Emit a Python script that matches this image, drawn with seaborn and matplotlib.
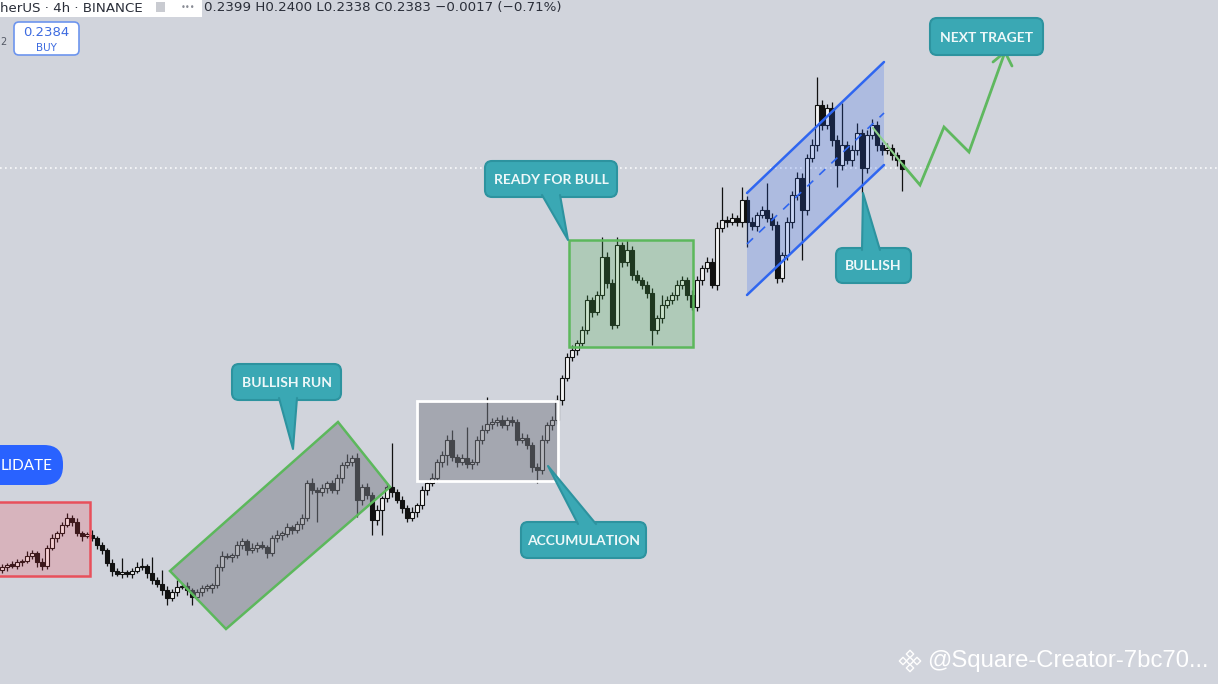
import matplotlib.pyplot as plt
import seaborn as sns
import numpy as np
from matplotlib.patches import Polygon, FancyBboxPatch, Rectangle
from matplotlib.transforms import Affine2D

sns.set_theme(style="white")
plt.rcParams['font.family'] = ['DejaVu Sans']

# ------------------------------------------
# Candle data (prices in units of 0.0001 USDT)
# ------------------------------------------
closes = [
    1586, 1590, 1588, 1596, 1598, 1608, 1614, 1596, 1588, 1624,
    1644, 1654, 1670, 1684, 1676, 1654, 1648, 1650, 1644, 1630,
    1620, 1594, 1578, 1572, 1576, 1572, 1578, 1586, 1588, 1574,
    1560, 1552, 1540, 1524, 1536, 1546, 1548, 1540, 1526, 1536,
    1544, 1544, 1550, 1586, 1608, 1606, 1610, 1630, 1638, 1620,
    1624, 1630, 1626, 1614, 1644, 1650, 1652, 1666, 1660, 1672,
    1684, 1754, 1740, 1736, 1744, 1754, 1740, 1764, 1790, 1796,
    1804, 1720, 1746, 1730, 1680, 1700, 1724, 1746, 1736, 1720,
    1704, 1684, 1696, 1710, 1740, 1754, 1764, 1796, 1810, 1840,
    1806, 1796, 1804, 1792, 1796, 1840, 1860, 1872, 1876, 1880,
    1870, 1880, 1876, 1840, 1844, 1830, 1786, 1780, 1840, 1870,
    1880, 1920, 1964, 2006, 2020, 2034, 2060, 2120, 2096, 2130,
    2206, 2154, 2070, 2230, 2196, 2220, 2170, 2160, 2150, 2134,
    2060, 2084, 2110, 2120, 2130, 2150, 2160, 2130, 2106, 2160,
    2184, 2196, 2150, 2264, 2280, 2276, 2284, 2276, 2320, 2276,
    2268, 2290, 2300, 2284, 2270, 2164, 2210, 2276, 2330, 2364,
    2300, 2404, 2430, 2510, 2470, 2504, 2440, 2390, 2430, 2400,
    2420, 2454, 2384, 2450, 2470, 2430, 2420, 2424, 2410, 2400,
    2383,
]
first_open = 1580

# wick lengths above / below the body
wick_up = [
    6, 4, 8, 6, 4, 10, 6, 4, 8, 6, 8, 4, 6, 10, 6, 8, 4, 6, 10, 4,
    6, 4, 8, 6, 28, 4, 6, 10, 16, 4, 32, 6, 28, 8, 6, 14, 6, 8, 4, 6,
    6, 8, 4, 6, 10, 6, 4, 8, 6, 4, 10, 6, 8, 4, 6, 10, 6, 8, 4, 6,
    8, 6, 10, 6, 8, 4, 6, 8, 6, 16, 6, 10, 6, 8, 6, 10, 4, 8, 88, 6,
    8, 6, 10, 4, 8, 6, 10, 6, 8, 10, 20, 6, 8, 62, 6, 8, 10, 54, 8, 6,
    10, 6, 8, 6, 10, 8, 6, 8, 10, 6, 8, 10, 6, 8, 10, 6, 8, 10, 6, 8,
    40, 10, 8, 16, 6, 20, 8, 10, 6, 8, 10, 6, 20, 8, 6, 10, 8, 6, 10, 8,
    6, 10, 8, 12, 66, 8, 10, 6, 26, 8, 10, 6, 8, 54, 10, 8, 6, 10, 8, 12,
    10, 8, 12, 56, 10, 8, 12, 10, 84, 8, 10, 20, 8, 10, 12, 8, 6, 10, 8, 6,
    1,
]
wick_dn = [
    6, 8, 4, 6, 8, 4, 6, 10, 8, 6, 4, 8, 6, 4, 8, 6, 10, 4, 6, 8,
    8, 6, 10, 4, 8, 6, 8, 4, 6, 10, 8, 6, 10, 14, 6, 8, 4, 10, 16, 6,
    8, 6, 10, 6, 8, 4, 10, 6, 8, 10, 6, 8, 4, 10, 6, 8, 10, 6, 8, 6,
    10, 6, 8, 60, 8, 10, 6, 8, 10, 6, 8, 34, 10, 8, 30, 10, 50, 8, 10, 6,
    10, 8, 6, 10, 8, 10, 6, 8, 10, 20, 8, 10, 6, 8, 10, 6, 8, 6, 10, 8,
    6, 10, 8, 10, 6, 8, 10, 26, 8, 6, 10, 8, 10, 6, 8, 10, 6, 8, 10, 6,
    8, 10, 8, 6, 10, 8, 10, 6, 8, 10, 30, 8, 10, 6, 8, 10, 8, 10, 6, 8,
    10, 8, 6, 10, 8, 10, 6, 8, 10, 50, 8, 10, 6, 8, 10, 10, 8, 10, 12, 10,
    100, 10, 8, 12, 10, 8, 12, 44, 10, 8, 12, 10, 50, 10, 8, 12, 10, 8, 10, 12,
    45,
]

header_left = "herUS · 4h · BINANCE"
header_ohlc = "0.2399 H0.2400 L0.2338 C0.2383 −0.0017 (−0.71%)"
last_price = 0.2384

# ------------------------------------------
# Colours
# ------------------------------------------
BG = '#d1d4dc'
TEAL = '#3aa8b4'
TEAL_EDGE = '#2d939f'
GREEN = '#5cb85c'
BLUE = '#2f66f0'

W, H = 1218, 684
fig = plt.figure(figsize=(W / 100, H / 100), dpi=100)
fig.patch.set_facecolor(BG)
ax = fig.add_axes([0, 0, 1, 1])
ax.set_facecolor(BG)
ax.set_axis_off()

# ------------------------------------------
# Candles
# ------------------------------------------
c = np.array(closes) / 10000
o = np.array([first_open] + closes[:-1]) / 10000
hi = np.maximum(o, c) + np.array(wick_up) / 10000
lo = np.minimum(o, c) - np.array(wick_dn) / 10000
idx = np.arange(len(c))
up = c >= o

ax.vlines(idx, lo, hi, color='#111111', lw=0.9, zorder=3)
body_h = np.maximum(np.abs(c - o), 0.0003)
ax.bar(idx, body_h, bottom=np.minimum(o, c), width=0.72,
       color=np.where(up, '#f4f4f4', '#111111'), edgecolor='#111111',
       linewidth=0.8, zorder=4)

ax.set_xlim(-0.4, 243.2)
ax.set_ylim(0.1352, 0.2720)

# pixel transform for drawings (origin top-left like the screenshot)
pix = Affine2D().scale(1 / W, -1 / H).translate(0, 1) + ax.transAxes

# current price dotted line
ax.axhline(last_price, color='white', lw=1.2, ls=(0, (1, 2)), alpha=0.9, zorder=2)


def box(x0, y0, x1, y1, fc, ec, alpha, lw=1.8):
    ax.add_patch(Rectangle((x0, y0), x1 - x0, y1 - y0, transform=pix,
                           fc=fc, alpha=alpha, ec='none', zorder=5))
    ax.add_patch(Rectangle((x0, y0), x1 - x0, y1 - y0, transform=pix,
                           fc='none', ec=ec, lw=lw, zorder=6))


def poly(pts, fc, ec, alpha, lw=1.8):
    ax.add_patch(Polygon(pts, closed=True, transform=pix, fc=fc, alpha=alpha,
                         ec='none', zorder=5))
    ax.add_patch(Polygon(pts, closed=True, transform=pix, fc='none', ec=ec,
                         lw=lw, zorder=6))


def callout(x0, y0, x1, y1, text, tail=None):
    ax.add_patch(FancyBboxPatch((x0, y0), x1 - x0, y1 - y0,
                                boxstyle="round,pad=0,rounding_size=7",
                                transform=pix, fc=TEAL, ec=TEAL_EDGE, lw=1.5,
                                zorder=8))
    if tail is not None:
        (bx0, by), (bx1, _), (tx, ty) = tail
        ax.add_patch(Polygon(tail, closed=True, transform=pix, fc=TEAL,
                             ec='none', zorder=9))
        ax.plot([bx0, tx, bx1], [by, ty, by], color=TEAL_EDGE, lw=1.5,
                transform=pix, zorder=9)
    ax.text((x0 + x1) / 2, (y0 + y1) / 2 + 1, text, transform=pix,
            ha='center', va='center', color='#eef8f9', fontsize=10,
            fontweight='bold', family='Lato', zorder=10)


# red consolidation box
box(-5, 502, 90, 576, '#f23645', '#e8505b', 0.2)
# rotated bullish run box
poly([(170, 571), (338, 422), (390, 487), (226, 629)], '#787b86', GREEN, 0.5)
# accumulation box
box(417, 401, 558, 481, '#787b86', 'white', 0.5, lw=2)
# ready for bull box
box(569, 240, 693, 347, '#4caf50', GREEN, 0.25)

# blue channel
poly([(747, 193), (884, 62), (884, 165), (747, 295)], BLUE, 'none', 0.22)
ax.plot([747, 884], [193, 62], color=BLUE, lw=1.8, transform=pix, zorder=6)
ax.plot([747, 884], [295, 165], color=BLUE, lw=1.8, transform=pix, zorder=6)
ax.plot([747, 884], [244, 113], color=BLUE, lw=1.2, ls=(0, (5, 5)),
        transform=pix, zorder=6)

# projection path
ax.plot([873, 903], [128, 165], color='#8ccf8a', lw=1.5, transform=pix, zorder=7)
ax.plot([903, 920, 944, 969, 1005], [165, 185, 127, 152, 52],
        color='#5fb85f', lw=2, transform=pix, zorder=7, solid_joinstyle='miter')
ax.plot([993, 1005, 1012], [62, 52, 66], color='#5fb85f', lw=2,
        transform=pix, zorder=7)

# callouts
callout(232, 364, 341, 400, "BULLISH RUN", [(279, 398), (297, 398), (293, 449)])
callout(485, 161, 617, 197, "READY FOR BULL", [(542, 195), (560, 195), (568, 240)])
callout(521, 522, 646, 558, "ACCUMULATION", [(578, 524), (596, 524), (548, 466)])
callout(836, 248, 911, 283, "BULLISH", [(862, 250), (880, 250), (863, 193)])
callout(930, 18, 1043, 55, "NEXT TRAGET")

# blue consolidate pill
ax.add_patch(FancyBboxPatch((-40, 445), 103, 40,
                            boxstyle="round,pad=0,rounding_size=19",
                            transform=pix, fc='#2962ff', ec='none', zorder=8))
ax.text(1, 466, "LIDATE", transform=pix, ha='left', va='center',
        color='white', fontsize=11, family='Lato', zorder=10)

# header strip
ax.add_patch(Rectangle((0, 0), 202, 17, transform=pix, fc='white', ec='none',
                       zorder=12))
ax.text(0, 8, header_left, transform=pix, ha='left', va='center',
        color='#2a2e39', fontsize=9.6, zorder=13)
ax.add_patch(Rectangle((156, 2), 9, 10, transform=pix, fc='#c9cbd1',
                       ec='none', zorder=13))
ax.text(181, 7, "•••", transform=pix, ha='left', va='center',
        color='#888b94', fontsize=6, zorder=13)
ax.text(204, 8, header_ohlc, transform=pix, ha='left', va='center',
        color='#2a2e39', fontsize=9.6, zorder=11)

# buy button
ax.add_patch(FancyBboxPatch((14, 22), 65, 33,
                            boxstyle="round,pad=0,rounding_size=5",
                            transform=pix, fc='white', ec='#6d95ee', lw=1.2,
                            zorder=12))
ax.text(46.5, 33, f"{last_price:.4f}", transform=pix, ha='center',
        va='center', color='#3d6be0', fontsize=9.5, zorder=13)
ax.text(46.5, 48, "BUY", transform=pix, ha='center', va='center',
        color='#3d6be0', fontsize=7.5, zorder=13)
ax.text(0, 42, "2", transform=pix, ha='left', va='center',
        color='#555a66', fontsize=7, zorder=13)

# watermark
for dx, dy in [(0, 0), (-7, 0), (7, 0), (0, -7), (0, 7)]:
    ax.scatter([910 + dx], [661 + dy], marker='D', s=14, fc='none',
               ec='white', lw=1, transform=pix, zorder=13)
ax.text(927, 661, "@Square-Creator-7bc70...", transform=pix, ha='left',
        va='center', color='white', fontsize=17.2, family='Liberation Sans',
        zorder=13)

plt.savefig('out.png', dpi=100, facecolor=BG)
